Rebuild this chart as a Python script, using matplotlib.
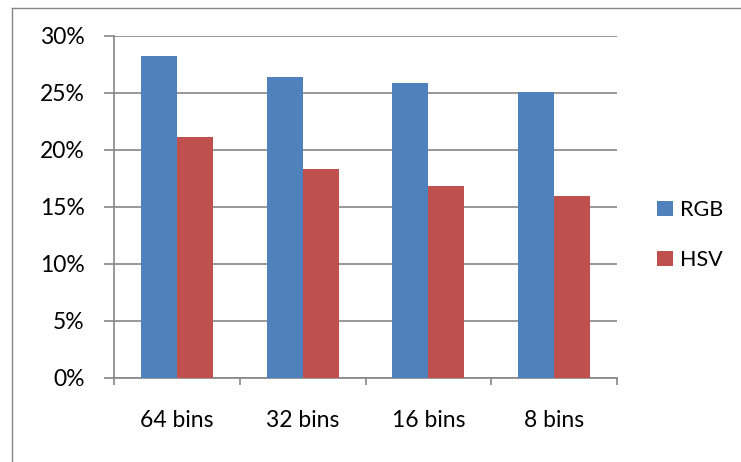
import matplotlib.pyplot as plt
import numpy as np
from matplotlib.ticker import PercentFormatter, FixedLocator

plt.rcParams['font.family'] = ['Lato', 'DejaVu Sans']

categories = ['64 bins', '32 bins', '16 bins', '8 bins']
rgb = [28.2, 26.4, 25.8, 25.05]
hsv = [21.1, 18.35, 16.8, 15.9]

blue = '#4F81BD'
red = '#C0504D'
grid_col = '#868686'
fs = 16.5

fig = plt.figure(figsize=(7.41, 4.62), dpi=100)
ax = fig.add_axes([114 / 741, 1 - 378 / 462, 503 / 741, 342.5 / 462])

x = np.arange(len(categories))
w = 1 / 3.5  # Excel gap width 150%
ax.bar(x - w / 2, rgb, width=w, color=blue, label='RGB', zorder=3)
ax.bar(x + w / 2, hsv, width=w, color=red, label='HSV', zorder=3)

ax.set_xlim(-0.5, len(categories) - 0.5)
ax.set_ylim(0, 30)
ax.set_yticks(np.arange(0, 31, 5))
ax.yaxis.set_major_formatter(PercentFormatter(decimals=0))
ax.grid(axis='y', color=grid_col, linewidth=1.2, zorder=0)

# category boundaries as major ticks, labels on minor ticks at centres
ax.xaxis.set_major_locator(FixedLocator(np.arange(-0.5, len(categories), 1)))
ax.xaxis.set_major_formatter(plt.NullFormatter())
ax.xaxis.set_minor_locator(FixedLocator(x))
ax.set_xticklabels(categories, minor=True)
ax.tick_params(axis='x', which='major', length=5, color=grid_col, width=1.2)
ax.tick_params(axis='x', which='minor', length=0, pad=23, labelsize=fs)
ax.tick_params(axis='y', length=7, color=grid_col, width=1.2, pad=14, labelsize=fs)

for s in ['top', 'right']:
    ax.spines[s].set_visible(False)
for s in ['left', 'bottom']:
    ax.spines[s].set_color(grid_col)
    ax.spines[s].set_linewidth(1.2)

leg = fig.legend(loc='center left', bbox_to_anchor=(657 / 741, 1 - 235 / 462),
                 frameon=False, fontsize=15.5, handlelength=0.75, handleheight=0.75,
                 handletextpad=0.3, labelspacing=1.4, borderpad=0, borderaxespad=0)

# outer chart border
fig.add_artist(plt.Line2D([12 / 741, 12 / 741], [0, 1 - 8 / 462],
                          transform=fig.transFigure, color=grid_col, linewidth=1))
fig.add_artist(plt.Line2D([12 / 741, 1], [1 - 8 / 462, 1 - 8 / 462],
                          transform=fig.transFigure, color=grid_col, linewidth=1))

plt.savefig('out.png', dpi=100)
